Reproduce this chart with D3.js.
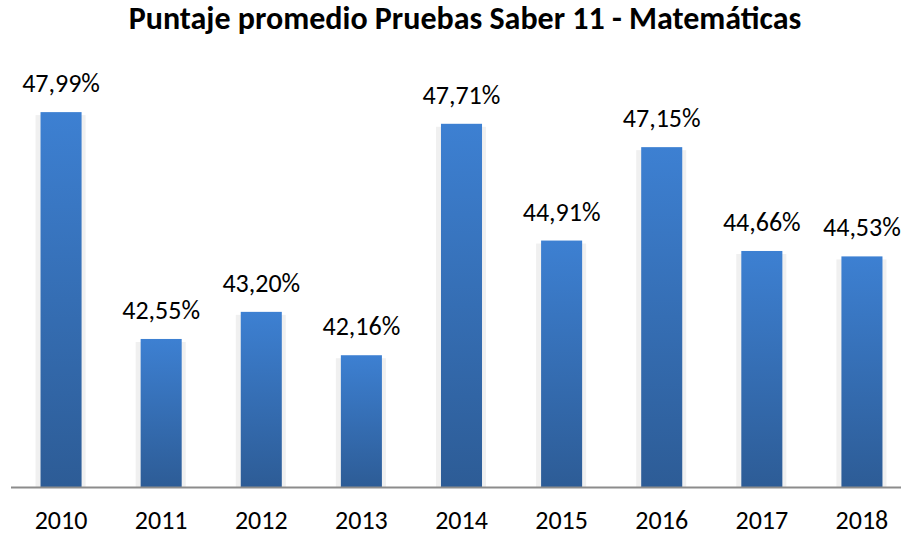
<!DOCTYPE html>
<html>
<meta charset="utf-8">
<head>
    <script src="https://d3js.org/d3.v7.min.js"></script>
    <style>
        body { margin: 0; background: #fff; }
        text { font-family: Carlito, Calibri, "Open Sans", sans-serif; }
    </style>
</head>
<body>
    <script>
        var width = 901,
            height = 535;

        var years = ["2010", "2011", "2012", "2013", "2014", "2015", "2016", "2017", "2018"];
        var scores = [47.99, 42.55, 43.20, 42.16, 47.71, 44.91, 47.15, 44.66, 44.53];
        var labels = ["47,99%", "42,55%", "43,20%", "42,16%", "47,71%", "44,91%", "47,15%", "44,66%", "44,53%"];

        var data = years.map(function(y, i) {
            return { year: y, value: scores[i], label: labels[i] };
        });

        var svg = d3.select("body").append("svg")
            .attr("width", width)
            .attr("height", height);

        var defs = svg.append("defs");
        var grad = defs.append("linearGradient")
            .attr("id", "barGrad")
            .attr("x1", 0).attr("y1", 0)
            .attr("x2", 0).attr("y2", 1);
        grad.append("stop").attr("offset", "0%").attr("stop-color", "#3d80d2");
        grad.append("stop").attr("offset", "100%").attr("stop-color", "#2d5c96");

        var x = d3.scaleBand()
            .domain(years)
            .range([11, 912])
            .paddingInner(0.59)
            .paddingOuter(0.295);

        var y = d3.scaleLinear()
            .domain([39, 49])
            .range([487, 70]);

        // faint shadow behind bars
        svg.selectAll("rect.shadow")
            .data(data)
            .enter()
            .append("rect")
            .attr("class", "shadow")
            .attr("x", function(d) { return x(d.year) - 5; })
            .attr("y", function(d) { return y(d.value) + 3; })
            .attr("width", x.bandwidth() + 9)
            .attr("height", function(d) { return y(39) - y(d.value) - 3; })
            .attr("fill", "#f0f0f0");

        svg.selectAll("rect.bar")
            .data(data)
            .enter()
            .append("rect")
            .attr("class", "bar")
            .attr("x", function(d) { return x(d.year); })
            .attr("y", function(d) { return y(d.value); })
            .attr("width", x.bandwidth())
            .attr("height", function(d) { return y(39) - y(d.value); })
            .attr("fill", "url(#barGrad)");

        var axis = svg.append("g")
            .attr("transform", "translate(0," + y(39) + ")")
            .call(d3.axisBottom(x).tickSize(0).tickPadding(0));
        axis.select(".domain")
            .attr("d", "M11,0.5H901")
            .attr("stroke", "#8c8c8c")
            .attr("stroke-width", 2);
        axis.selectAll(".tick text")
            .attr("dy", 0)
            .attr("y", 42)
            .attr("fill", "#000")
            .style("font-size", "26px")
            .style("font-family", "Carlito, Calibri, 'Open Sans', sans-serif");

        svg.selectAll("text.val")
            .data(data)
            .enter()
            .append("text")
            .attr("class", "val")
            .attr("x", function(d) { return x(d.year) + x.bandwidth() / 2; })
            .attr("y", function(d) { return y(d.value) - 20; })
            .attr("text-anchor", "middle")
            .attr("fill", "#000")
            .style("font-size", "26px")
            .text(function(d) { return d.label; });

        svg.append("text")
            .attr("x", 465)
            .attr("y", 29)
            .attr("text-anchor", "middle")
            .attr("fill", "#000")
            .style("font-size", "32px")
            .style("font-weight", "bold")
            .text("Puntaje promedio Pruebas Saber 11 - Matemáticas");
    </script>
</body>
</html>
